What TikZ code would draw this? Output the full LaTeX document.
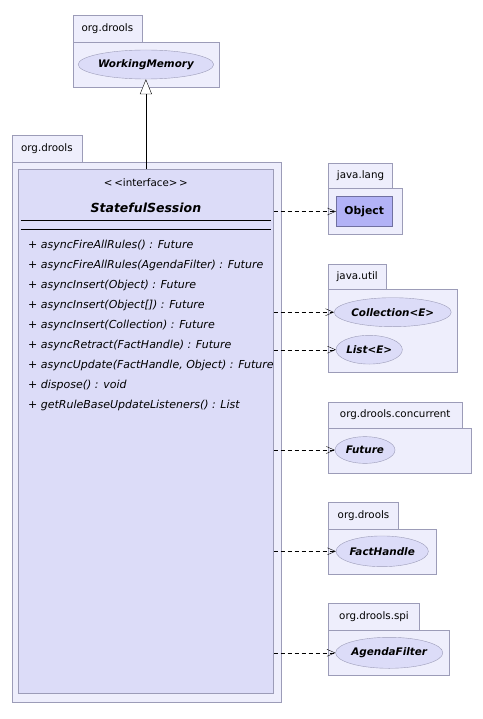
\documentclass[tikz,border=0pt]{standalone}
\usepackage{fontspec}
\setmainfont{DejaVu Sans}
\usetikzlibrary{arrows.meta,shapes.geometric}
\definecolor{pkgfill}{RGB}{238,238,252}
\definecolor{pkgline}{RGB}{156,156,184}
\definecolor{clsfill}{RGB}{220,220,248}
\definecolor{objfill}{RGB}{178,178,246}
\definecolor{objline}{RGB}{112,112,160}

\begin{document}
\begin{tikzpicture}[x=1pt,y=-1pt,
  pkg/.style={draw=pkgline,fill=pkgfill,anchor=north west,inner sep=0pt},
  tab/.style={pkg,font=\fontsize{10.3}{12}\selectfont},
  iface/.style={ellipse,draw=pkgline,fill=clsfill,inner sep=0pt,font=\fontsize{10.4}{12}\selectfont\bfseries\itshape},
  meth/.style={anchor=west,inner sep=0pt,text height=7.5pt,text depth=2.5pt,font=\fontsize{11}{13}\selectfont\itshape},
  dep/.style={draw,dash pattern=on 4pt off 3pt,-{Straight Barb[length=8pt,width=7pt]}},
  inherit/.style={draw,-{Triangle[length=15pt,width=12pt,fill=white]}}]
\useasboundingbox (0,0) rectangle (482,719);
\node[tab,minimum width=69pt,minimum height=27pt] (tabWM) at (72.7,15) {org.drools};
\node[pkg,minimum width=146.6pt,minimum height=45.3pt] (pkgWM) at (72.7,42) {};
\node[iface,minimum width=133pt,minimum height=29pt] (wm) at (145.9,64.5) {WorkingMemory};

\node[tab,minimum width=70pt,minimum height=27.3pt] (tabSS) at (11.7,135) {org.drools};
\node[pkg,minimum width=268.8pt,minimum height=539.4pt] (pkgSS) at (11.7,162.3) {};
\node[draw=pkgline,fill=clsfill,minimum width=255.2pt,minimum height=524pt,inner sep=0pt] (ss) at (145.9,431.3) {};
\node[font=\fontsize{10.3}{12}\selectfont] (stereo) at (145.9,182.7) {{<}\,{<}interface{>}\,{>}};
\node[font=\fontsize{12.5}{14}\selectfont\bfseries\itshape] (ssname) at (145.9,207.5) {StatefulSession};
\draw (20.7,220.3) -- (271.3,220.3);
\draw (20.7,229.3) -- (271.3,229.3);
\node[meth] (m1) at (28,246) {+ asyncFireAllRules() : Future};
\node[meth] (m2) at (28,266) {+ asyncFireAllRules(AgendaFilter) : Future};
\node[meth] (m3) at (28,286) {+ asyncInsert(Object) : Future};
\node[meth] (m4) at (28,306) {+ asyncInsert(Object[]) : Future};
\node[meth] (m5) at (28,326) {+ asyncInsert(Collection) : Future};
\node[meth] (m6) at (28,346) {+ asyncRetract(FactHandle) : Future};
\node[meth] (m7) at (28,366) {+ asyncUpdate(FactHandle, Object) : Future};
\node[meth] (m8) at (28,386) {+ dispose() : void};
\node[meth] (m9) at (28,406) {+ getRuleBaseUpdateListeners() : List};

\node[tab,minimum width=64pt,minimum height=25.6pt] (tabLang) at (328.3,162.7) {java.lang};
\node[pkg,minimum width=73.4pt,minimum height=45.7pt] (pkgLang) at (328.3,188.3) {};
\node[draw=objline,fill=objfill,minimum width=56.3pt,minimum height=29.6pt,inner sep=0pt,font=\fontsize{10.8}{12}\selectfont\bfseries] (obj) at (364.2,211.5) {Object};

\node[tab,minimum width=57.4pt,minimum height=25pt] (tabUtil) at (328.3,264) {java.util};
\node[pkg,minimum width=129pt,minimum height=82.7pt] (pkgUtil) at (328.3,289) {};
\node[iface,minimum width=113.3pt,minimum height=29pt] (coll) at (392.7,312.2) {Collection<E>};
\node[iface,minimum width=66.3pt,minimum height=28.7pt] (list) at (369.2,349.7) {List<E>};

\node[tab,minimum width=133.4pt,minimum height=26pt] (tabConc) at (328.3,401.7) {org.drools.concurrent};
\node[pkg,minimum width=142.4pt,minimum height=45.6pt] (pkgConc) at (328.3,427.7) {};
\node[iface,minimum width=60pt,minimum height=26.7pt] (fut) at (365,450) {Future};

\node[tab,minimum width=70pt,minimum height=27pt] (tabFH) at (328.3,502.3) {org.drools};
\node[pkg,minimum width=107.4pt,minimum height=45pt] (pkgFH) at (328.3,529.3) {};
\node[iface,minimum width=92.3pt,minimum height=30.7pt] (fh) at (382.2,551.3) {FactHandle};

\node[tab,minimum width=91pt,minimum height=26.7pt] (tabSpi) at (328.3,603.3) {org.drools.spi};
\node[pkg,minimum width=121pt,minimum height=45pt] (pkgSpi) at (328.3,630) {};
\node[iface,minimum width=106.3pt,minimum height=31pt] (af) at (389.2,652.8) {AgendaFilter};

\draw[inherit] (ss.north) -- (wm.south);
\draw[dep] (ss.east |- obj) -- (obj);
\draw[dep] (ss.east |- coll) -- (coll);
\draw[dep] (ss.east |- list) -- (list);
\draw[dep] (ss.east |- fut) -- (fut);
\draw[dep] (ss.east |- fh) -- (fh);
\draw[dep] (ss.east |- af) -- (af);
\end{tikzpicture}
\end{document}
